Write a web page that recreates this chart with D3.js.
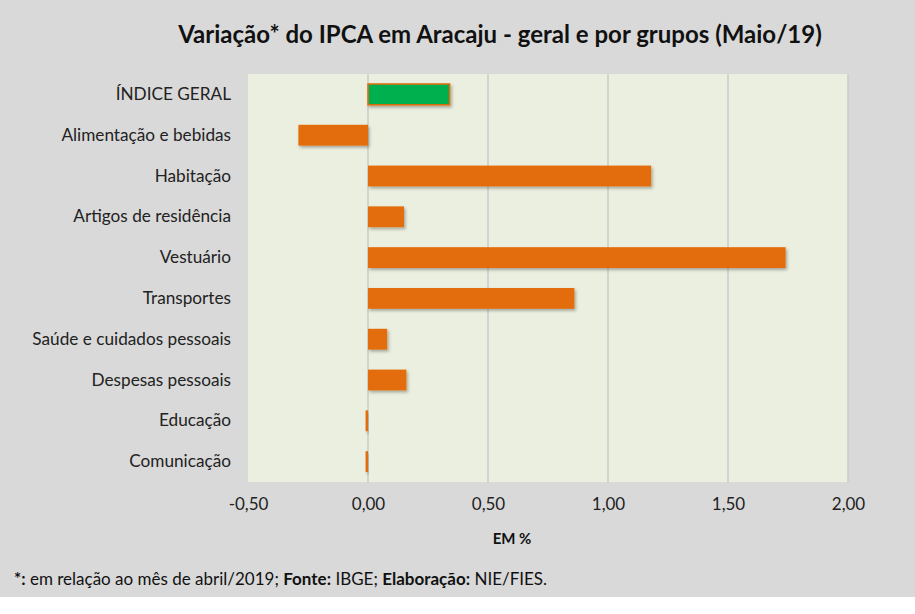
<!DOCTYPE html>
<html lang="pt">

<head>
    <meta charset="UTF-8">
    <title>IPCA Aracaju - Maio/19</title>
    <script src="https://d3js.org/d3.v7.min.js"></script>
    <style type="text/css">
        body {
            margin: 0;
            background-color: #fff;
        }

        svg text {
            font-family: Lato, "Open Sans", sans-serif;
        }
    </style>
</head>

<body>
    <div id="chartArea"></div>
    <script type="text/javascript">
        var categories = ['ÍNDICE GERAL', 'Alimentação e bebidas', 'Habitação', 'Artigos de residência',
            'Vestuário', 'Transportes', 'Saúde e cuidados pessoais', 'Despesas pessoais', 'Educação', 'Comunicação'];
        var values = [0.34, -0.29, 1.18, 0.15, 1.74, 0.86, 0.08, 0.16, -0.01, -0.01];
        var tickValues = [-0.5, 0, 0.5, 1, 1.5, 2];

        var w = 915, h = 614;
        var margin = { top: 74, right: 67, bottom: 132, left: 248 };

        var svg = d3.select('#chartArea').append('svg')
            .attr('width', w)
            .attr('height', h);

        // drop shadow for bars
        var filter = svg.append('defs').append('filter')
            .attr('id', 'shadow')
            .attr('x', '-20%').attr('y', '-20%')
            .attr('width', '140%').attr('height', '160%');
        filter.append('feDropShadow')
            .attr('dx', 1.5).attr('dy', 2)
            .attr('stdDeviation', 1.5)
            .attr('flood-color', '#000')
            .attr('flood-opacity', 0.3);

        svg.append('rect')
            .attr('width', w)
            .attr('height', 597)
            .attr('fill', '#d9d9d9');

        var xScale = d3.scaleLinear()
            .domain([-0.5, 2])
            .range([margin.left, w - margin.right]);

        var yScale = d3.scaleBand()
            .domain(categories)
            .range([margin.top, h - margin.bottom])
            .paddingInner(0.49)
            .paddingOuter(0.245);

        // plot area
        svg.append('rect')
            .attr('x', xScale.range()[0])
            .attr('y', margin.top)
            .attr('width', xScale.range()[1] - xScale.range()[0])
            .attr('height', h - margin.bottom - margin.top)
            .attr('fill', '#ebefdf');

        // gridlines
        svg.append('g')
            .selectAll('line')
            .data(tickValues.slice(1))
            .enter()
            .append('line')
            .attr('x1', function (d) { return xScale(d); })
            .attr('x2', function (d) { return xScale(d); })
            .attr('y1', margin.top)
            .attr('y2', h - margin.bottom)
            .attr('stroke', '#cbcbcb')
            .attr('stroke-width', 1.5);

        // x axis labels
        var fmt = function (d) { return d3.format('.2f')(d).replace('.', ',').replace('−', '-'); };
        var xAxis = svg.append('g')
            .attr('transform', 'translate(0,' + (h - margin.bottom) + ')')
            .call(d3.axisBottom(xScale).tickValues(tickValues).tickFormat(fmt).tickSize(0).tickPadding(16));
        xAxis.select('.domain').remove();
        xAxis.selectAll('text')
            .attr('font-size', 17)
            .attr('fill', '#222')
            .style('font-family', 'Lato, sans-serif');

        // y axis labels
        var yAxis = svg.append('g')
            .attr('transform', 'translate(' + (margin.left - 17) + ',0)')
            .call(d3.axisLeft(yScale).tickSize(0).tickPadding(0));
        yAxis.select('.domain').remove();
        yAxis.selectAll('text')
            .attr('font-size', 17.2)
            .attr('fill', '#222')
            .style('font-family', 'Lato, sans-serif');

        // bars
        svg.append('g')
            .selectAll('rect')
            .data(values)
            .enter()
            .append('rect')
            .attr('class', 'bar')
            .attr('x', function (d) { return xScale(Math.min(0, d)); })
            .attr('y', function (d, i) { return yScale(categories[i]); })
            .attr('width', function (d) { return Math.abs(xScale(d) - xScale(0)); })
            .attr('height', yScale.bandwidth())
            .attr('fill', function (d, i) { return i === 0 ? '#00b050' : '#e36c0a'; })
            .attr('stroke', function (d, i) { return i === 0 ? '#e36c0a' : 'none'; })
            .attr('stroke-width', 1.5)
            .attr('filter', 'url(#shadow)');

        // title
        svg.append('text')
            .attr('x', 500)
            .attr('y', 43)
            .attr('text-anchor', 'middle')
            .attr('font-size', 24)
            .attr('font-weight', 'bold')
            .attr('fill', '#111')
            .text('Variação* do IPCA em Aracaju - geral e por grupos (Maio/19)');

        // axis title
        svg.append('text')
            .attr('x', 512)
            .attr('y', 544)
            .attr('text-anchor', 'middle')
            .attr('font-size', 15)
            .attr('font-weight', 'bold')
            .attr('fill', '#111')
            .text('EM %');

        // footnote
        var note = svg.append('text')
            .attr('x', 14)
            .attr('y', 585)
            .attr('font-size', 17)
            .attr('fill', '#111');
        note.append('tspan').attr('font-weight', 'bold').text('*:');
        note.append('tspan').text(' em relação ao mês de abril/2019; ');
        note.append('tspan').attr('font-weight', 'bold').text('Fonte:');
        note.append('tspan').text(' IBGE; ');
        note.append('tspan').attr('font-weight', 'bold').text('Elaboração:');
        note.append('tspan').text(' NIE/FIES.');
    </script>
</body>

</html>
